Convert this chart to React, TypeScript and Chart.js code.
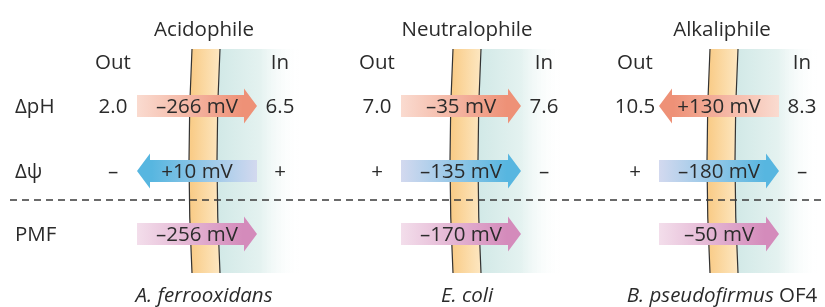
import React, { useEffect, useRef } from "react";
import { Chart, registerables } from "chart.js";

Chart.register(...registerables);

// ---------- data ----------
const titles = ["Acidophile", "Neutralophile", "Alkaliphile"];
const speciesItalic = ["A. ferrooxidans", "E. coli", "B. pseudofirmus"];
const speciesSuffix = ["", "", " OF4"];
const sideLabels = ["Out", "In"];
const rowLabels = ["ΔpH", "Δψ", "PMF"];
const pHOut = ["2.0", "7.0", "10.5"];
const pHIn = ["6.5", "7.6", "8.3"];
const deltaPH_mV = [-266, -35, 130];
const deltaPsi_mV = [10, -135, -180];
const pmf_mV = [-256, -170, -50];
const psiOutSign = ["–", "+", "+"];
const psiInSign = ["+", "–", "–"];

// ---------- layout (in scale units) ----------
const L = {
  panelShift: [0, 264, 522],
  membraneShift: [0, 261, 518],
  titleX: [204, 467, 722],
  speciesX: [204, 467, 722],
  outX: 113,
  inX: 280,
  arrowX0: 137,
  arrowX1: 257,
  membL: 191,
  membR: 219,
  membTop: 49,
  membBot: 273,
  tealLen: 82,
  titleY: 36,
  sideY: 69,
  rowBase: [113, 178, 241],
  rowCenter: [106, 171, 234],
  speciesY: 302,
  dashY: 200,
  rowLabelX: 15,
};

const FONT = "'Open Sans', 'Noto Sans', sans-serif";
const FS = 20.5;
const TXT = "#2b2b2b";

const arrowColors = [
  { light: "#fadbd0", dark: "#ee9177" },
  { light: "#d3d9ef", dark: "#57b6e0" },
  { light: "#f3deeb", dark: "#d48bbb" },
];

function fmt(v: number) {
  return (v > 0 ? "+" : "–") + Math.abs(v) + " mV";
}

const diagramPlugin = {
  id: "pmfDiagram",
  afterDraw(chart: any) {
    const ctx: CanvasRenderingContext2D = chart.ctx;
    const xs = chart.scales.x;
    const ys = chart.scales.y;
    const X = (v: number) => xs.getPixelForValue(v);
    const Y = (v: number) => ys.getPixelForValue(v);

    ctx.save();
    for (let p = 0; p < 3; p++) {
      const s = L.membraneShift[p];
      const l = L.membL + s;
      const r = L.membR + s;
      const top = Y(L.membTop);
      const bot = Y(L.membBot);
      const mid = Y((L.membTop + L.membBot) / 2);
      const tg = ctx.createLinearGradient(X(r), 0, X(r + L.tealLen), 0);
      tg.addColorStop(0, "#d2e9e7");
      tg.addColorStop(0.5, "#e4f2f0");
      tg.addColorStop(1, "rgba(255,255,255,0)");
      ctx.fillStyle = tg;
      ctx.beginPath();
      ctx.moveTo(X(r + 1), top);
      ctx.quadraticCurveTo(X(r - 5), mid, X(r + 1), bot);
      ctx.lineTo(X(r + L.tealLen), bot);
      ctx.lineTo(X(r + L.tealLen), top);
      ctx.closePath();
      ctx.fill();
      const og = ctx.createLinearGradient(X(l), 0, X(r), 0);
      og.addColorStop(0, "#f9cc88");
      og.addColorStop(1, "#fde6bf");
      ctx.fillStyle = og;
      ctx.beginPath();
      ctx.moveTo(X(l + 1), top);
      ctx.quadraticCurveTo(X(l - 5), mid, X(l + 1), bot);
      ctx.lineTo(X(r + 1), bot);
      ctx.quadraticCurveTo(X(r - 5), mid, X(r + 1), top);
      ctx.closePath();
      ctx.fill();
      ctx.strokeStyle = "#333";
      ctx.lineWidth = 1.2;
      ctx.beginPath();
      ctx.moveTo(X(l + 1), top);
      ctx.quadraticCurveTo(X(l - 5), mid, X(l + 1), bot);
      ctx.stroke();
      ctx.beginPath();
      ctx.moveTo(X(r + 1), top);
      ctx.quadraticCurveTo(X(r - 5), mid, X(r + 1), bot);
      ctx.stroke();
    }

    ctx.strokeStyle = "#3a3a3a";
    ctx.lineWidth = 1.3;
    ctx.setLineDash([7, 5]);
    ctx.beginPath();
    ctx.moveTo(X(10), Y(L.dashY));
    ctx.lineTo(X(825), Y(L.dashY));
    ctx.stroke();
    ctx.setLineDash([]);

    const text = (t: string, x: number, y: number, align: CanvasTextAlign, font = `${FS}px ${FONT}`) => {
      ctx.font = font;
      ctx.textAlign = align;
      ctx.textBaseline = "alphabetic";
      ctx.fillStyle = TXT;
      ctx.fillText(t, X(x), Y(y));
    };

    const rows = [deltaPH_mV, deltaPsi_mV, pmf_mV];
    for (let r = 0; r < 3; r++) {
      for (let p = 0; p < 3; p++) {
        const v = rows[r][p];
        const s = L.panelShift[p];
        const x0 = X(L.arrowX0 + s);
        const x1 = X(L.arrowX1 + s);
        const cy = Y(L.rowCenter[r]);
        const bh = 11;
        const hh = 17.5;
        const hl = 13;
        const right = v < 0;
        const tip = right ? x1 : x0;
        const tail = right ? x0 : x1;
        const hb = right ? x1 - hl : x0 + hl;
        const g = ctx.createLinearGradient(tail, 0, tip, 0);
        g.addColorStop(0, arrowColors[r].light);
        g.addColorStop(0.88, arrowColors[r].dark);
        g.addColorStop(1, arrowColors[r].dark);
        ctx.fillStyle = g;
        ctx.beginPath();
        ctx.moveTo(tail, cy - bh);
        ctx.lineTo(hb, cy - bh);
        ctx.lineTo(hb, cy - hh);
        ctx.lineTo(tip, cy);
        ctx.lineTo(hb, cy + hh);
        ctx.lineTo(hb, cy + bh);
        ctx.lineTo(tail, cy + bh);
        ctx.closePath();
        ctx.fill();
        text(fmt(v), (L.arrowX0 + L.arrowX1) / 2 + s, L.rowBase[r], "center");
      }
    }

    for (let r = 0; r < 3; r++) text(rowLabels[r], L.rowLabelX, L.rowBase[r], "left");

    for (let p = 0; p < 3; p++) {
      const s = L.panelShift[p];
      text(titles[p], L.titleX[p], L.titleY, "center");
      text(sideLabels[0], L.outX + s, L.sideY, "center");
      text(sideLabels[1], L.inX + s, L.sideY, "center");
      text(pHOut[p], L.outX + s, L.rowBase[0], "center");
      text(pHIn[p], L.inX + s, L.rowBase[0], "center");
      text(psiOutSign[p], L.outX + s, L.rowBase[1], "center");
      text(psiInSign[p], L.inX + s, L.rowBase[1], "center");
      const itFont = `italic ${FS}px ${FONT}`;
      const upFont = `${FS}px ${FONT}`;
      ctx.font = itFont;
      const w1 = ctx.measureText(speciesItalic[p]).width;
      ctx.font = upFont;
      const w2 = speciesSuffix[p] ? ctx.measureText(speciesSuffix[p]).width : 0;
      const startPx = X(L.speciesX[p]) - (w1 + w2) / 2;
      ctx.font = itFont;
      ctx.textAlign = "left";
      ctx.fillStyle = TXT;
      ctx.fillText(speciesItalic[p], startPx, Y(L.speciesY));
      if (w2) {
        ctx.font = upFont;
        ctx.fillText(speciesSuffix[p], startPx + w1, Y(L.speciesY));
      }
    }
    ctx.restore();
  },
};

export default function App() {
  const ref = useRef<HTMLCanvasElement | null>(null);
  useEffect(() => {
    document.body.style.margin = "0";
    const chart = new Chart(ref.current as HTMLCanvasElement, {
      type: "scatter",
      data: { datasets: [{ data: [] }] },
      options: {
        animation: false,
        responsive: false,
        devicePixelRatio: 1,
        layout: { padding: 0 },
        plugins: { legend: { display: false }, tooltip: { enabled: false } },
        scales: {
          x: { type: "linear", min: 0, max: 825, display: false },
          y: { type: "linear", min: 0, max: 307, reverse: true, display: false },
        },
      },
      plugins: [diagramPlugin],
    });
    return () => chart.destroy();
  }, []);
  return (
    <div style={{ width: 825, height: 307, background: "#fff" }}>
      <canvas ref={ref} width={825} height={307} />
    </div>
  );
}
